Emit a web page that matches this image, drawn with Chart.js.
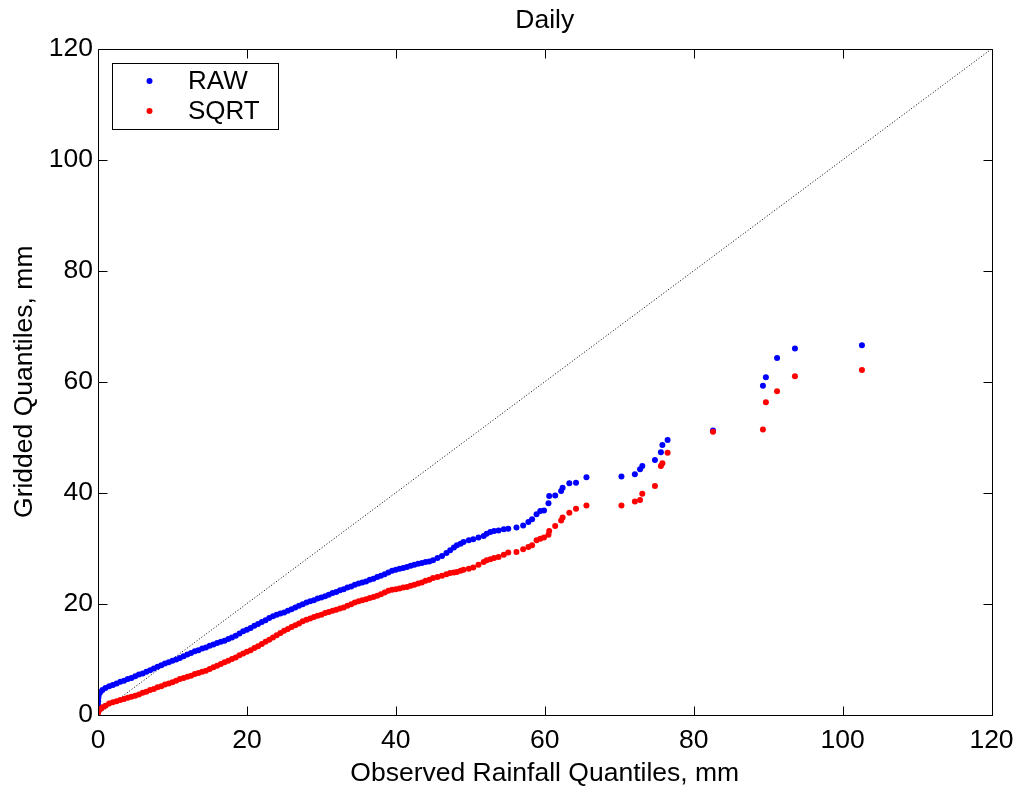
<!DOCTYPE html>
<html><head><meta charset="utf-8">
<script src="https://cdn.jsdelivr.net/npm/chart.js@4.4.1/dist/chart.umd.min.js"></script>
<style>html,body{margin:0;padding:0;background:#fff;} canvas{display:block;}</style>
</head><body>
<canvas id="c" width="1019" height="792"></canvas>
<script>
// Observed rainfall quantiles (shared x for both series)
const observed = [
  0.00,0.00,0.00,0.02,0.05,0.10,0.3,0.6,1.0,1.5,2.0,2.5,3.0,3.5,4.0,4.5,5.0,5.5,6.0,6.5,
  7.0,7.5,8.0,8.5,9.0,9.5,10.0,10.5,11.0,11.5,12.0,12.5,13.0,13.5,14.0,14.5,15.0,15.5,16.0,16.5,
  17.0,17.5,18.0,18.5,19.0,19.5,20.0,20.5,21.0,21.5,22.0,22.5,23.0,23.5,24.0,24.5,25.0,25.5,26.0,26.5,
  27.0,27.5,28.0,28.5,29.0,29.5,30.0,30.5,31.0,31.5,32.0,32.5,33.0,33.5,34.0,34.5,35.0,35.5,36.0,36.5,
  37.0,37.5,38.0,38.5,39.0,39.5,40.0,40.5,41.0,41.5,42.0,42.5,43.0,43.5,44.0,44.5,45.0,45.6,46.2,46.8,
  47.3,47.8,48.2,48.7,49.1,49.8,50.4,51.1,51.8,52.2,52.7,53.2,53.8,54.5,55.1,56.2,57.1,57.8,58.3,58.9,
  59.4,59.9,60.5,60.6,61.4,62.2,62.4,63.3,64.2,65.6,70.3,72.1,72.8,73.1,74.8,75.6,75.8,76.5,82.6,89.3,
  89.7,91.2,93.6,102.6
];
// Gridded quantiles, RAW interpolation
const rawQuantiles = [
  0.6,1.2,1.8,2.4,3.0,3.5,4.0,4.4,4.8,5.1,5.3,5.6,5.9,6.1,6.4,6.6,6.9,7.2,7.4,7.7,
  8.0,8.3,8.6,8.9,9.2,9.4,9.7,9.9,10.2,10.5,10.8,11.1,11.4,11.6,11.9,12.1,12.4,12.6,12.9,13.1,
  13.3,13.6,13.9,14.2,14.6,15.0,15.3,15.6,16.0,16.3,16.7,17.0,17.4,17.7,18.0,18.2,18.4,18.7,19.0,19.3,
  19.6,19.9,20.2,20.4,20.6,20.9,21.1,21.3,21.6,21.9,22.1,22.4,22.6,22.9,23.1,23.4,23.6,23.8,24.0,24.3,
  24.5,24.8,25.0,25.3,25.6,25.9,26.1,26.3,26.4,26.6,26.8,27.0,27.2,27.3,27.5,27.6,27.8,28.2,28.6,29.1,
  29.6,30.1,30.5,30.8,31.1,31.4,31.6,31.9,32.2,32.6,32.9,33.1,33.2,33.4,33.5,33.7,34.1,34.7,35.2,36.1,
  36.7,36.8,38.1,39.4,39.5,40.3,40.9,41.7,41.8,42.8,42.9,43.3,44.2,44.8,45.9,47.3,48.6,49.5,51.2,59.3,
  60.8,64.3,66.0,66.6
];
// Gridded quantiles, SQRT interpolation
const sqrtQuantiles = [
  0.0,0.2,0.4,0.5,0.6,0.8,1.0,1.3,1.6,2.0,2.2,2.4,2.6,2.8,3.0,3.2,3.4,3.6,3.9,4.1,
  4.4,4.6,4.9,5.1,5.4,5.6,5.8,6.1,6.4,6.6,6.8,7.0,7.3,7.5,7.7,7.9,8.2,8.5,8.8,9.1,
  9.4,9.7,10.0,10.3,10.7,11.0,11.3,11.6,12.0,12.3,12.7,13.1,13.5,13.9,14.3,14.7,15.1,15.4,15.8,16.1,
  16.4,16.8,17.1,17.3,17.6,17.8,18.0,18.3,18.5,18.7,18.9,19.1,19.3,19.6,19.9,20.2,20.4,20.6,20.8,21.0,
  21.2,21.4,21.7,22.0,22.3,22.5,22.6,22.7,22.9,23.0,23.2,23.4,23.6,23.8,24.1,24.3,24.6,24.8,25.0,25.3,
  25.5,25.6,25.7,25.9,26.1,26.3,26.5,27.0,27.5,27.8,28.0,28.2,28.4,28.8,29.2,29.3,29.8,30.2,30.5,31.4,
  31.7,31.9,32.4,33.1,34.0,35.0,35.5,36.4,37.1,37.7,37.7,38.4,38.7,39.8,41.2,44.8,45.3,47.2,51.0,51.4,
  56.3,58.3,61.0,62.1
];
const diagonalX = [0, 120];
const axisTicks = [0, 20, 40, 60, 80, 100, 120];
const titleText = 'Daily';
const xLabel = 'Observed Rainfall Quantiles, mm';
const yLabel = 'Gridded Quantiles, mm';
const seriesNames = ['RAW', 'SQRT'];
const seriesColors = ['#0000ff', '#ff0000'];

const FONT = "'Liberation Sans', Arial, Helvetica, sans-serif";
const FS = 26.5;

const toPoints = ys => observed.map((x, i) => ({x: x, y: ys[i]}));

const frame = {
  id: 'frame',
  afterDatasetsDraw(chart) {
    const {ctx, chartArea: a, scales: {x, y}} = chart;
    ctx.save();
    ctx.strokeStyle = '#000';
    ctx.lineWidth = 1;
    const L = Math.round(a.left) + 0.5, R = Math.round(a.right) + 0.5;
    const T = Math.round(a.top) + 0.5, B = Math.round(a.bottom) + 0.5;
    ctx.beginPath();
    ctx.rect(L, T, R - L, B - T);
    const tl = 9;
    x.ticks.forEach(t => {
      const px = Math.round(x.getPixelForValue(t.value)) + 0.5;
      ctx.moveTo(px, B); ctx.lineTo(px, B - tl);
      ctx.moveTo(px, T); ctx.lineTo(px, T + tl);
    });
    y.ticks.forEach(t => {
      const py = Math.round(y.getPixelForValue(t.value)) + 0.5;
      ctx.moveTo(L, py); ctx.lineTo(L + tl, py);
      ctx.moveTo(R, py); ctx.lineTo(R - tl, py);
    });
    ctx.stroke();
    // legend box
    const bx = a.left + 14, by = a.top + 14, bw = 166, bh = 66;
    ctx.fillStyle = '#fff';
    ctx.fillRect(bx, by, bw, bh);
    ctx.strokeRect(Math.round(bx) + 0.5, Math.round(by) + 0.5, bw, bh);
    ctx.font = '26px ' + FONT;
    ctx.textBaseline = 'middle';
    ctx.textAlign = 'left';
    seriesNames.forEach((name, i) => {
      const cy = by + 18 + i * 30;
      ctx.fillStyle = seriesColors[i];
      ctx.beginPath();
      ctx.arc(bx + 37.5, cy, 3, 0, Math.PI * 2);
      ctx.fill();
      ctx.fillStyle = '#000';
      ctx.fillText(name, bx + 76, cy + 1);
    });
    ctx.restore();
  }
};

new Chart(document.getElementById('c'), {
  type: 'scatter',
  data: {
    datasets: [
      {
        label: seriesNames[0],
        data: toPoints(rawQuantiles),
        backgroundColor: seriesColors[0],
        pointRadius: 3, pointBorderWidth: 0, pointHoverRadius: 3,
        order: 1
      },
      {
        label: seriesNames[1],
        data: toPoints(sqrtQuantiles),
        backgroundColor: seriesColors[1],
        pointRadius: 3, pointBorderWidth: 0, pointHoverRadius: 3,
        order: 0
      },
      {
        label: 'diag',
        data: diagonalX.map(v => ({x: v, y: v})),
        showLine: true,
        borderColor: '#000',
        borderWidth: 1,
        borderDash: [1, 2],
        pointRadius: 0,
        order: 2
      }
    ]
  },
  options: {
    responsive: false,
    animation: false,
    events: [],
    devicePixelRatio: 1,
    layout: {padding: {top: 0, right: 27.5, bottom: 0, left: 0}},
    plugins: {
      legend: {display: false},
      tooltip: {enabled: false},
      title: {
        display: true,
        fullSize: false,
        text: titleText,
        color: '#000',
        font: {family: FONT, size: FS, weight: 'normal'},
        padding: {top: 5, bottom: 12.2}
      }
    },
    scales: {
      x: {
        type: 'linear', min: 0, max: 120,
        afterBuildTicks: s => { s.ticks = axisTicks.map(v => ({value: v})); },
        afterFit: s => { s.height = 77.5; s.paddingLeft = 0; s.paddingRight = 0; },
        grid: {display: false, drawTicks: false},
        border: {display: false},
        ticks: {color: '#000', font: {family: FONT, size: FS}, padding: 10, maxRotation: 0, autoSkip: false},
        title: {display: true, text: xLabel, color: '#000', font: {family: FONT, size: FS}, padding: {top: 0, bottom: 2.4}}
      },
      y: {
        type: 'linear', min: 0, max: 120,
        afterBuildTicks: s => { s.ticks = axisTicks.map(v => ({value: v})); },
        afterFit: s => { s.width = 98; s.paddingTop = 0; s.paddingBottom = 0; },
        grid: {display: false, drawTicks: false},
        border: {display: false},
        ticks: {color: '#000', font: {family: FONT, size: FS}, padding: 5, autoSkip: false},
        title: {display: true, text: yLabel, color: '#000', font: {family: FONT, size: FS}, padding: {top: 8.5, bottom: 0}}
      }
    }
  },
  plugins: [frame]
});
</script>
</body></html>
